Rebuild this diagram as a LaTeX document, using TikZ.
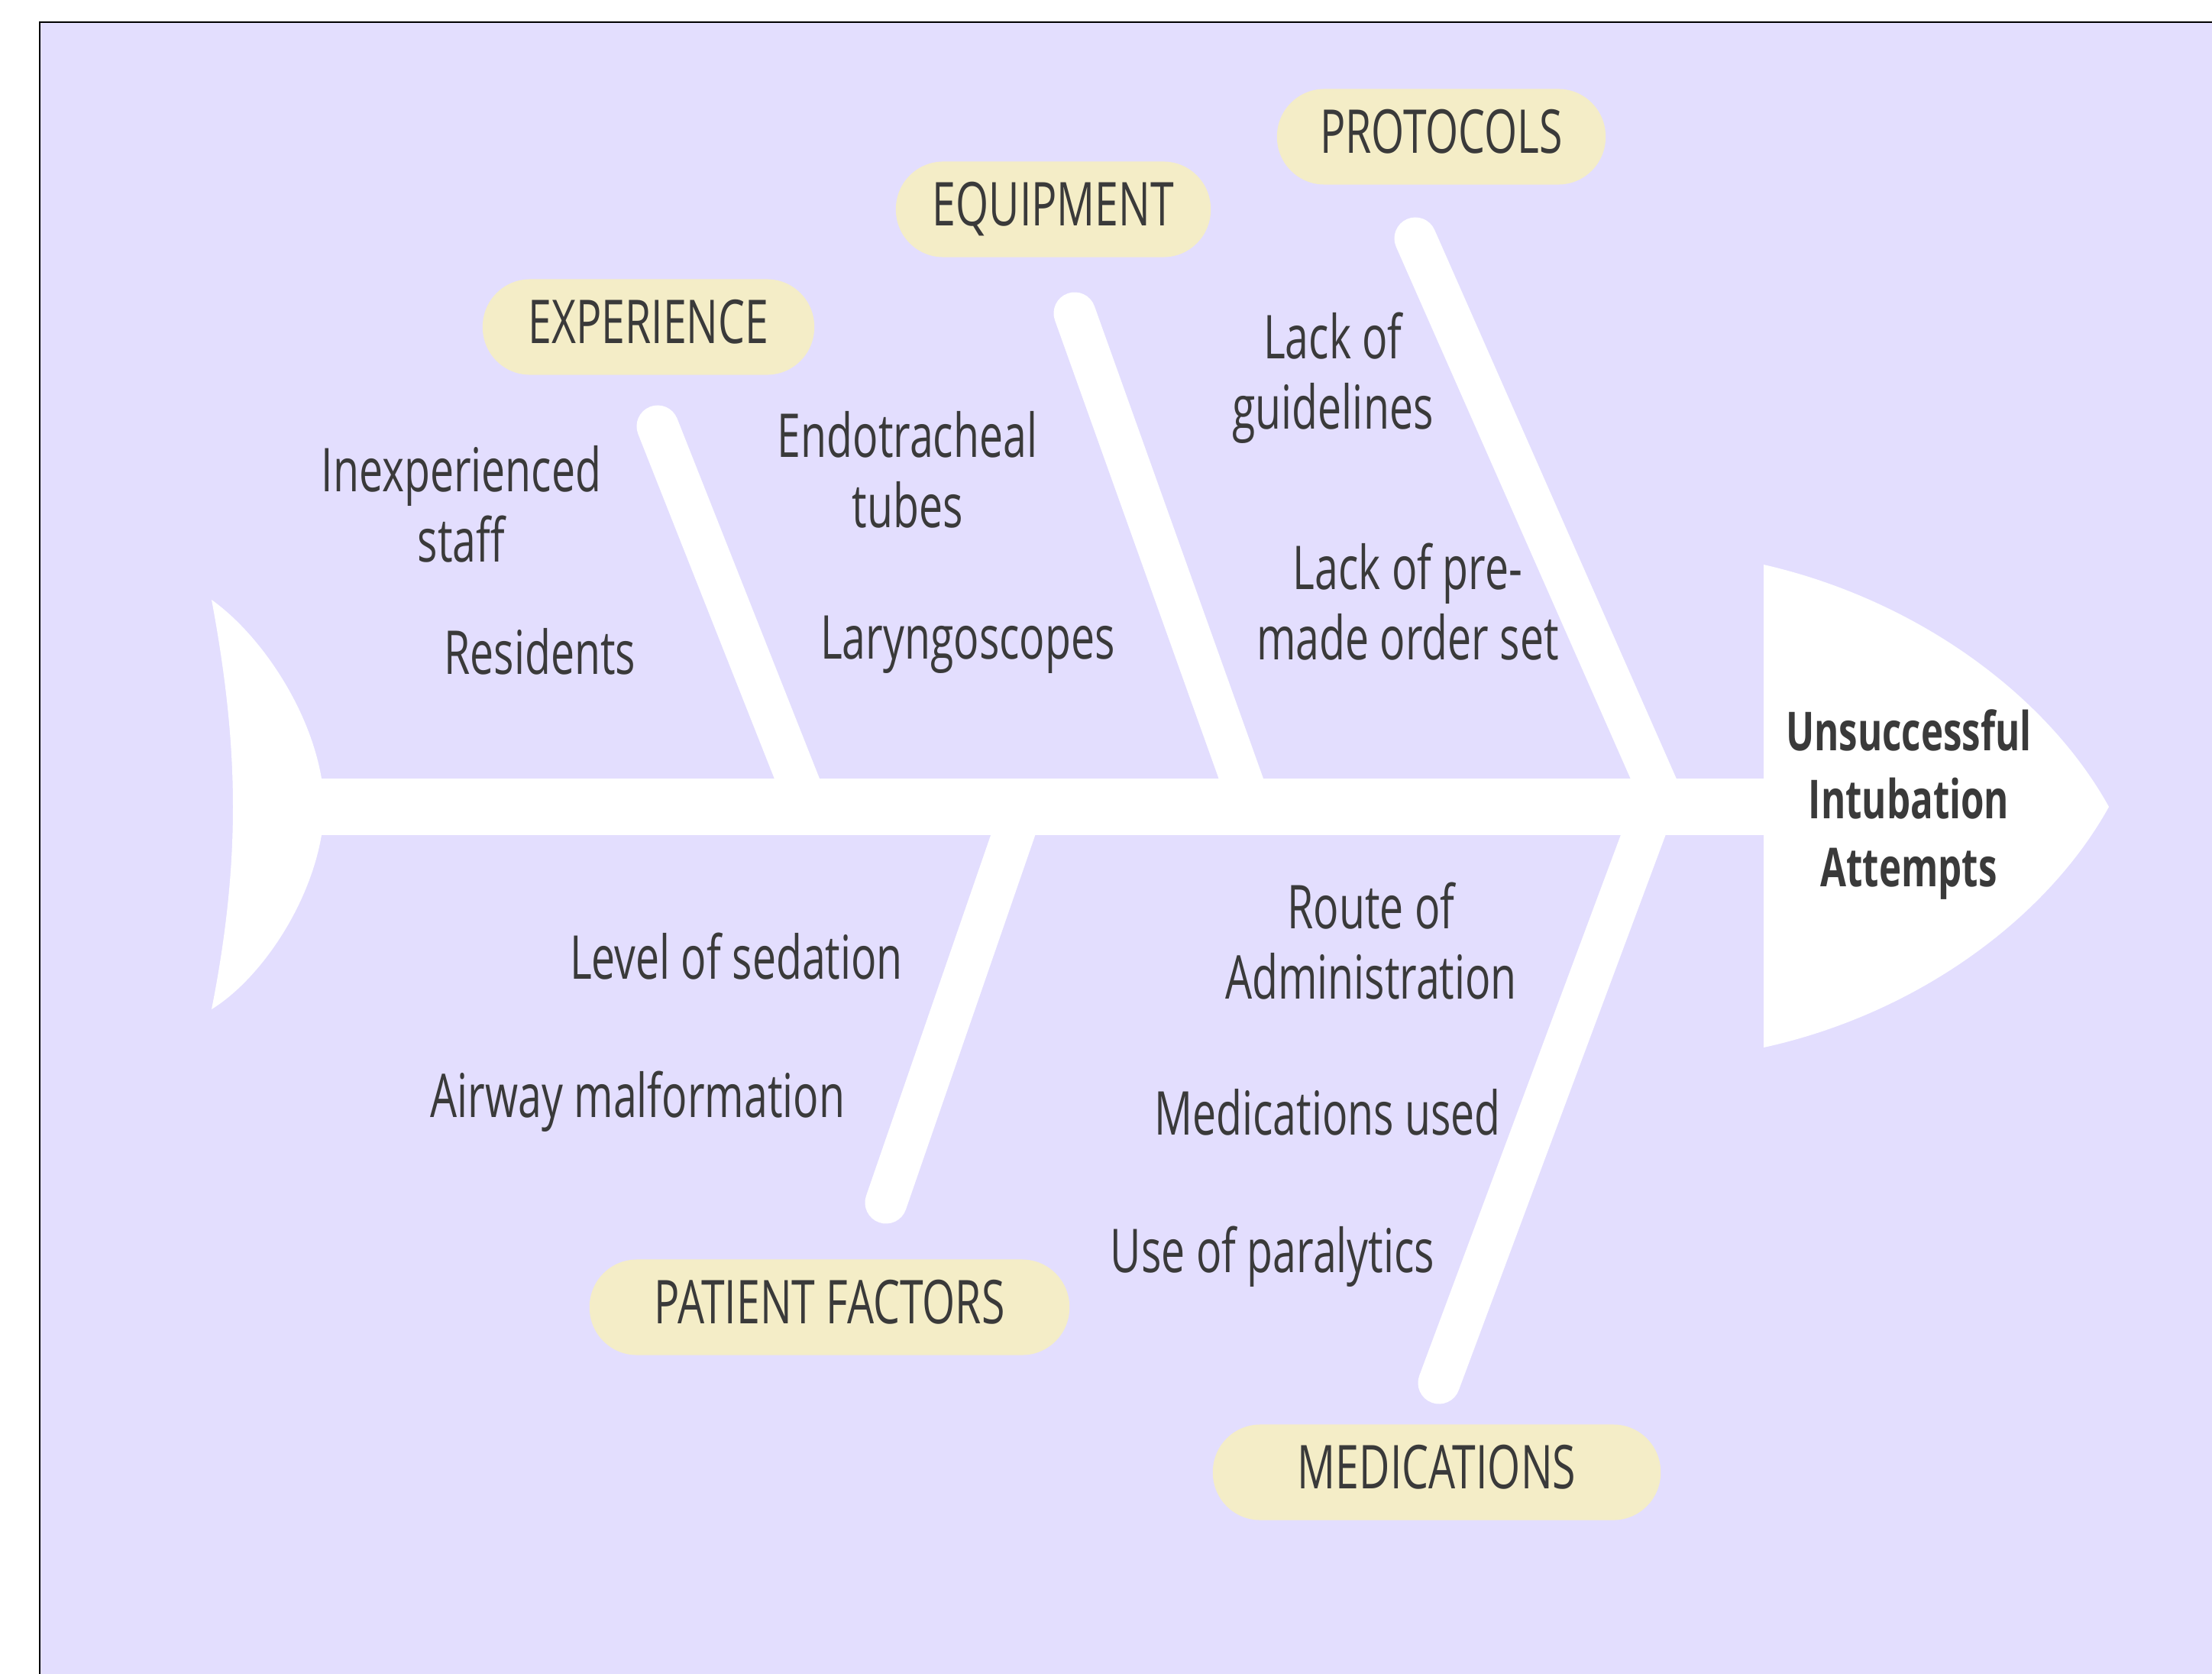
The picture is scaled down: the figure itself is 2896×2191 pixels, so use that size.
\documentclass[tikz,border=0pt]{standalone}
\usepackage{fontspec}
\setmainfont{Open Sans}[FakeStretch=0.7]

\definecolor{fishbg}{HTML}{E3DEFE}
\definecolor{pillfill}{HTML}{F4EDC7}
\definecolor{inkgray}{HTML}{3A3A3A}

\tikzset{
  bone/.style={white, line width=0.55cm, line cap=round},
  pill/.style={fill=pillfill, rounded corners=0.62cm, minimum height=1.25cm,
    inner sep=0pt, text height=0.56cm, text depth=0.14cm,
    text=inkgray, font=\fontsize{22.5}{26}\selectfont},
  cause/.style={text=inkgray, align=center, font=\fontsize{22.5}{26.2}\selectfont},
}

\begin{document}
\begin{tikzpicture}[x=0.01cm,y=-0.01cm]
  \useasboundingbox (0,0) rectangle (2896,2191);
  \clip (0,0) rectangle (2896,2191);
  % Frame, open to the right and bottom
  \draw[fill=fishbg, line width=0.8pt] (52,29) rectangle (2960,2260);

  % Tail, spine and head
  \fill[white] (277,785) .. controls (340,830) and (405,925) .. (421,1019)
    -- (421,1093) .. controls (405,1187) and (340,1282) .. (277,1321)
    .. controls (298,1215) and (305,1130) .. (305,1056)
    .. controls (305,982) and (298,897) .. cycle;
  \fill[white] (415,1019) rectangle (2315,1093);
  \fill[white] (2309,739) .. controls (2510,785) and (2680,910) .. (2761,1056)
    .. controls (2680,1202) and (2510,1327) .. (2309,1371) -- cycle;

  % Bone ends
  \coordinate (experTop) at (861,558);
  \coordinate (experFoot) at (1058,1056);
  \coordinate (equipTop) at (1407,410);
  \coordinate (equipFoot) at (1638,1056);
  \coordinate (protoTop) at (1853,312);
  \coordinate (protoFoot) at (2181,1056);
  \coordinate (patientEnd) at (1160,1574);
  \coordinate (patientFoot) at (1339,1056);
  \coordinate (medicEnd) at (1884,1810);
  \coordinate (medicFoot) at (2165,1056);

  \draw[bone] (experTop) -- (experFoot);
  \draw[bone] (equipTop) -- (equipFoot);
  \draw[bone] (protoTop) -- (protoFoot);
  \draw[bone] (patientEnd) -- (patientFoot);
  \draw[bone] (medicEnd) -- (medicFoot);

  % Categories
  \node[pill, minimum width=4.34cm] (exper) at (849,428) {EXPERIENCE};
  \node[pill, minimum width=4.12cm] (equip) at (1379,274) {EQUIPMENT};
  \node[pill, minimum width=4.30cm] (proto) at (1887,179) {PROTOCOLS};
  \node[pill, minimum width=6.28cm] (patient) at (1086,1711) {PATIENT FACTORS};
  \node[pill, minimum width=5.86cm] (medic) at (1881,1927) {MEDICATIONS};

  % Causes
  \node[cause] (staff) at (604,660) {Inexperienced\\staff};
  \node[cause] (resid) at (707,853) {Residents};
  \node[cause] (tubes) at (1188,615) {Endotracheal\\tubes};
  \node[cause] (laryn) at (1267,844) {Laryngoscopes};
  \node[cause] (guide) at (1745,495) {Lack of\\guidelines};
  \node[cause] (order) at (1843,788) {Lack of pre-\\made order set};
  \node[cause] (sedat) at (964,1252) {Level of sedation};
  \node[cause] (airway) at (835,1442) {Airway malformation};
  \node[cause] (route) at (1795,1232) {Route of\\Administration};
  \node[cause] (used) at (1738,1456) {Medications used};
  \node[cause] (paral) at (1666,1645) {Use of paralytics};

  % Effect
  \node[text=inkgray, align=center, font=\bfseries\fontsize{20}{25.3}\selectfont]
    (effect) at (2499,1053) {Unsuccessful\\Intubation\\Attempts};
\end{tikzpicture}
\end{document}
